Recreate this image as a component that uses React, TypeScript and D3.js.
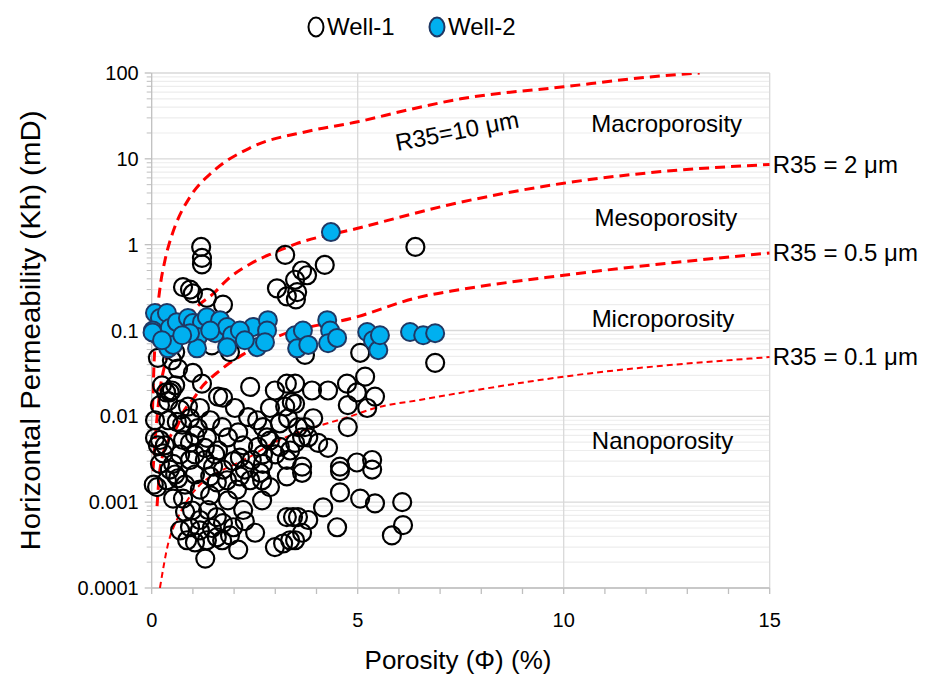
import React from 'react';
import * as d3 from 'd3';

const W = 927;
const H = 678;

// Axis ticks
const xMajorTicks = [0, 5, 10, 15];
const xMinorTicks = d3.range(0, 16, 1);
const yDecades = [0.0001, 0.001, 0.01, 0.1, 1, 10, 100];
const yTickLabels = ['0.0001', '0.001', '0.01', '0.1', '1', '10', '100'];

// Well-1: [porosity %, permeability mD]
const well1: [number, number][] = [
  [1.2, 0.94], [1.22, 0.70], [1.22, 0.59], [0.76, 0.32], [0.93, 0.30], [1.0, 0.27], [1.34, 0.24], [1.73, 0.20],
  [3.24, 0.76], [3.04, 0.31], [3.28, 0.25], [3.48, 0.39], [3.53, 0.28], [3.65, 0.50], [4.2, 0.58], [3.77, 0.44],
  [6.4, 0.94], [3.5, 0.23],
  [5.06, 0.055], [6.88, 0.042], [0.64, 0.036], [1.0, 0.032], [1.22, 0.024], [0.44, 0.019], [0.35, 0.019], [0.49, 0.020],
  [0.2, 0.0135], [0.88, 0.013], [1.17, 0.0125], [1.61, 0.017], [1.73, 0.0165], [2.39, 0.022], [2.99, 0.020], [3.28, 0.024],
  [3.4, 0.0146], [2.02, 0.0125],
  [0.4, 0.009], [0.61, 0.0086], [0.93, 0.0095], [1.12, 0.0073], [1.71, 0.0075], [1.85, 0.0057], [2.34, 0.0098], [2.56, 0.009],
  [2.7, 0.0075], [3.11, 0.0083], [3.31, 0.0095],
  [0.2, 0.0053], [0.08, 0.0056], [0.32, 0.0046], [0.76, 0.0053], [1.05, 0.006], [1.34, 0.0056], [1.61, 0.004], [2.8, 0.0057],
  [3.11, 0.0044], [3.36, 0.004],
  [0.2, 0.0028], [0.52, 0.0028], [0.93, 0.0031], [1.29, 0.0031], [1.49, 0.0026], [2.43, 0.0031], [2.7, 0.0028], [3.28, 0.0031],
  [3.48, 0.024], [3.89, 0.020], [4.28, 0.020], [4.74, 0.024], [5.18, 0.029], [4.98, 0.019], [5.42, 0.017], [4.76, 0.0135],
  [5.23, 0.0125], [3.48, 0.014], [3.55, 0.0075], [3.72, 0.0075], [3.92, 0.0095], [3.65, 0.0057], [3.8, 0.0057], [4.76, 0.0075],
  [4.04, 0.0049], [4.28, 0.0043], [3.48, 0.0049], [3.65, 0.0026], [4.57, 0.0026], [4.98, 0.0029], [5.35, 0.0031],
  [0.13, 0.0015], [0.37, 0.0018], [0.52, 0.0011], [0.76, 0.0011], [1.42, 0.002], [1.58, 0.0017], [1.83, 0.0018], [2.14, 0.002],
  [2.39, 0.0018], [2.63, 0.0022], [3.28, 0.002],
  [0.81, 0.00077], [0.69, 0.00047], [0.93, 0.00051], [1.17, 0.00062], [1.37, 0.00081], [1.58, 0.00067], [1.73, 0.00057],
  [1.98, 0.00051], [2.22, 0.00081], [2.51, 0.00044], [0.86, 0.00036], [1.05, 0.00034], [1.34, 0.00036], [1.58, 0.00039],
  [1.71, 0.00036], [2.1, 0.00028], [1.3, 0.00022], [2.99, 0.0003], [3.19, 0.00033], [3.36, 0.00036], [3.28, 0.00067],
  [3.43, 0.00067],
  [3.65, 0.0022], [4.57, 0.0023], [5.35, 0.0024], [4.16, 0.00087], [4.57, 0.0013], [5.06, 0.0011], [5.42, 0.00097],
  [6.08, 0.001], [6.1, 0.00054], [5.83, 0.00041], [4.5, 0.00051], [3.8, 0.00062], [3.55, 0.00067], [3.65, 0.00044],
  [3.48, 0.00036],
  [0.05, 0.0016], [0.15, 0.0046], [0.28, 0.0037], [0.44, 0.0024], [0.64, 0.0019], [0.81, 0.0016], [1.05, 0.0021],
  [1.17, 0.0014], [1.42, 0.0012], [1.73, 0.0024], [1.98, 0.003], [2.14, 0.0033], [2.26, 0.0024], [1.54, 0.0036],
  [1.29, 0.0043], [1.05, 0.0036], [0.69, 0.0036], [0.57, 0.0021], [0.98, 0.0008], [1.17, 0.00047], [1.46, 0.0005],
  [1.9, 0.00041], [2.26, 0.0006], [2.68, 0.00105], [2.87, 0.0015], [2.68, 0.0018], [1.85, 0.00105], [2.07, 0.0014],
  [0.25, 0.023], [0.57, 0.023], [0.4, 0.015], [0.08, 0.009], [0.69, 0.012], [0.74, 0.008], [1.42, 0.009], [0.93, 0.0049],
  [2.1, 0.0065], [2.22, 0.0046], [2.58, 0.0044], [2.87, 0.0052], [3.0, 0.0036], [2.7, 0.0036], [3.24, 0.013], [2.87, 0.0125],
  [0.15, 0.048], [0.57, 0.056], [1.46, 0.067], [1.9, 0.056], [3.72, 0.052], [0.49, 0.045],
];

// Well-2: [porosity %, permeability mD]
const well2: [number, number][] = [
  [0.08, 0.16], [0.2, 0.14], [0.37, 0.16], [0.03, 0.10], [0.15, 0.088], [0.44, 0.107], [0.4, 0.062], [0.52, 0.068],
  [0.61, 0.125], [0.88, 0.14], [1.0, 0.122], [1.22, 0.125], [1.34, 0.143], [1.12, 0.084], [1.1, 0.062], [0.93, 0.093],
  [1.54, 0.093], [1.66, 0.132], [1.83, 0.11], [1.95, 0.088], [1.83, 0.064], [2.46, 0.11], [2.56, 0.064], [2.82, 0.132],
  [2.8, 0.10], [2.75, 0.073], [3.48, 0.088], [3.53, 0.062], [3.67, 0.10], [3.8, 0.068], [4.26, 0.132], [4.33, 0.10],
  [4.28, 0.071], [4.5, 0.082], [5.23, 0.096], [5.37, 0.077], [5.5, 0.059], [5.54, 0.088], [6.27, 0.096], [6.59, 0.088],
  [6.88, 0.093], [4.35, 1.4], [0.02, 0.095], [0.25, 0.077], [2.14, 0.10], [2.26, 0.077], [0.74, 0.088], [1.42, 0.10],
];

// R35 pore-throat radius iso-lines: [porosity %, permeability mD]
const r35_10: [number, number][] = [
  [0.02, 0.012], [0.056, 0.04], [0.1, 0.1], [0.2, 0.31], [0.32, 0.65], [0.49, 1.29], [0.6, 1.8], [0.93, 3.6],
  [1.5, 7.2], [2.4, 13.5], [3.8, 21], [5, 27], [6.2, 37], [7.5, 50], [10, 69], [12.1, 90], [13.3, 100],
];
const r35_2: [number, number][] = [
  [0.03, 0.0023], [0.13, 0.0098], [0.2, 0.02], [0.32, 0.04], [0.86, 0.14], [1.1, 0.19], [1.5, 0.27], [1.83, 0.39],
  [2.4, 0.6], [2.95, 0.8], [3.5, 1.02], [5, 1.55], [7.2, 2.9], [10, 5.2], [12.1, 6.9], [15, 8.6],
];
const r35_05: [number, number][] = [
  [0.13, 0.0009], [0.2, 0.0024], [0.44, 0.0057], [0.61, 0.0075], [0.76, 0.011], [1.05, 0.017], [1.25, 0.023],
  [1.58, 0.032], [1.9, 0.042], [2.2, 0.052], [2.95, 0.081], [5, 0.145], [6.5, 0.245], [7.5, 0.30], [10, 0.44], [15, 0.80],
];
const r35_01: [number, number][] = [
  [0.2, 0.0001], [0.4, 0.00033], [0.61, 0.00062], [0.86, 0.00104], [1.12, 0.0015], [1.58, 0.0022], [1.9, 0.0026],
  [2.39, 0.0034], [2.95, 0.0049], [3.48, 0.0063], [3.96, 0.0075], [4.77, 0.0098], [5.42, 0.0125], [6.5, 0.0155],
  [10, 0.029], [15, 0.049],
];

const FONT = 'Liberation Sans, Arial, sans-serif';

export default function App() {
  const x = d3.scaleLinear().domain([0, 15]).range([151.7, 769.7]);
  const y = d3.scaleLog().domain([0.0001, 100]).range([588, 73]);
  const [x0, x1] = x.range();
  const [y0, y1] = y.range();

  const minorY: number[] = [];
  for (let i = 0; i < yDecades.length - 1; i++) {
    for (let m = 2; m <= 9; m++) minorY.push(yDecades[i] * m);
  }

  const line = d3
    .line<[number, number]>()
    .x((d) => x(d[0]))
    .y((d) => y(d[1]))
    .curve(d3.curveMonotoneX);

  const thick = { fill: 'none', stroke: '#ff0000', strokeWidth: 3, strokeDasharray: '10 6' };
  const thin = { fill: 'none', stroke: '#ff0000', strokeWidth: 2, strokeDasharray: '6 4' };

  return (
    <svg
      width={W}
      height={H}
      style={{ position: 'absolute', left: 0, top: 0, background: '#fff' }}
      fontFamily={FONT}
    >
      <defs>
        <clipPath id="plotClip">
          <rect x={x0} y={y1} width={x1 - x0} height={y0 - y1} />
        </clipPath>
      </defs>

      {/* minor gridlines */}
      {minorY.map((v, i) => (
        <line key={'mg' + i} x1={x0} x2={x1} y1={y(v)} y2={y(v)} stroke="#ededed" strokeWidth={1.2} />
      ))}
      {/* major gridlines */}
      {yDecades.map((v, i) => (
        <line key={'Mg' + i} x1={x0} x2={x1} y1={y(v)} y2={y(v)} stroke="#d9d9d9" strokeWidth={1.3} />
      ))}
      {xMajorTicks.slice(1).map((v, i) => (
        <line key={'vg' + i} x1={x(v)} x2={x(v)} y1={y1} y2={y0} stroke="#d9d9d9" strokeWidth={1.3} />
      ))}

      {/* axes */}
      <line x1={x0} x2={x0} y1={y1} y2={y0} stroke="#bfbfbf" strokeWidth={1.3} />
      <line x1={x0} x2={x1} y1={y0} y2={y0} stroke="#bfbfbf" strokeWidth={1.3} />
      {minorY.map((v, i) => (
        <line key={'mt' + i} x1={x0 - 5} x2={x0} y1={y(v)} y2={y(v)} stroke="#bfbfbf" strokeWidth={1} />
      ))}
      {yDecades.map((v, i) => (
        <line key={'Mt' + i} x1={x0 - 7} x2={x0} y1={y(v)} y2={y(v)} stroke="#bfbfbf" strokeWidth={1.3} />
      ))}
      {xMinorTicks.map((v, i) => (
        <line key={'xt' + i} x1={x(v)} x2={x(v)} y1={y0} y2={y0 + 6} stroke="#bfbfbf" strokeWidth={1.3} />
      ))}

      {/* tick labels */}
      {yDecades.map((v, i) => (
        <text key={'yl' + i} x={x0 - 13} y={y(v) + 7} textAnchor="end" fontSize={20} fill="#000">
          {yTickLabels[i]}
        </text>
      ))}
      {xMajorTicks.map((v, i) => (
        <text key={'xl' + i} x={x(v)} y={y0 + 39} textAnchor="middle" fontSize={20} fill="#000">
          {v}
        </text>
      ))}

      {/* axis titles */}
      <text x={458} y={669} textAnchor="middle" fontSize={26} fill="#000">
        Porosity (Φ) (%)
      </text>
      <text
        transform={`translate(40, ${(y0 + y1) / 2}) rotate(-90)`}
        textAnchor="middle"
        fontSize={27}
        fill="#000"
        textLength={440}
        lengthAdjust="spacingAndGlyphs"
      >
        Horizontal Permeability (Kh) (mD)
      </text>

      {/* R35 iso-lines */}
      <g clipPath="url(#plotClip)">
        <path d={line(r35_10) || ''} style={thick} />
        <path d={line(r35_2) || ''} style={thick} />
        <path d={line(r35_05) || ''} style={thick} />
        <path d={line(r35_01) || ''} style={thin} />
      </g>

      {/* samples */}
      {well1.map((d, i) => (
        <circle key={'w1' + i} cx={x(d[0])} cy={y(d[1])} r={9} fill="none" stroke="#000" strokeWidth={2.2} />
      ))}
      {well2.map((d, i) => (
        <circle key={'w2' + i} cx={x(d[0])} cy={y(d[1])} r={9} fill="#00b0f0" stroke="#1f3864" strokeWidth={2} />
      ))}

      {/* region and line labels */}
      <g fontSize={24} fill="#000">
        <text x={x(12.5)} y={y(20.5)} textAnchor="middle">Macroporosity</text>
        <text x={x(12.48)} y={y(1.65)} textAnchor="middle">Mesoporosity</text>
        <text x={x(12.41)} y={y(0.11)} textAnchor="middle">Microporosity</text>
        <text x={x(12.4)} y={y(0.0042)} textAnchor="middle">Nanoporosity</text>
        <text x={x1 + 3} y={y(8.5) + 8}>R35 = 2 μm</text>
        <text x={x1 + 3} y={y(0.8) + 8}>R35 = 0.5 μm</text>
        <text x={x1 + 3} y={y(0.049) + 8}>R35 = 0.1 μm</text>
        <text transform={`translate(${x(7.45)}, ${y(17)}) rotate(-11)`} textAnchor="middle">
          R35=10 μm
        </text>
      </g>

      {/* legend */}
      <g fontSize={24} fill="#000">
        <ellipse cx={316} cy={27} rx={7.5} ry={9.5} fill="#fff" stroke="#000" strokeWidth={2} />
        <text x={327} y={35}>Well-1</text>
        <ellipse cx={437} cy={27} rx={7.5} ry={9.5} fill="#00b0f0" stroke="#1f3864" strokeWidth={2} />
        <text x={448} y={35}>Well-2</text>
      </g>
    </svg>
  );
}
